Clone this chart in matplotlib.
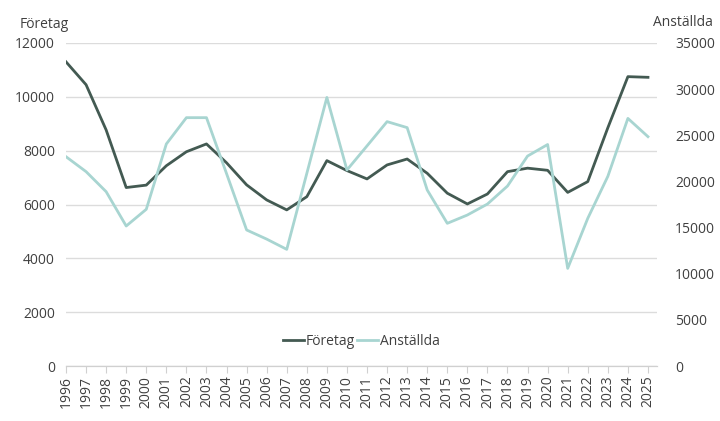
import numpy as np
import matplotlib.pyplot as plt

plt.rcParams['font.family'] = ['Open Sans', 'DejaVu Sans']

# Data
years = np.arange(1996, 2026)
foretag = [11300, 10450, 8770, 6630, 6720, 7440, 7960, 8250, 7550, 6730,
           6170, 5800, 6290, 7630, 7260, 6950, 7470, 7690, 7160, 6420,
           6020, 6390, 7220, 7350, 7270, 6450, 6850, 8850, 10750, 10725]
anstallda = [22680, 21060, 18890, 15170, 16980, 24060, 26910, 26910, 20850, 14740,
             13750, 12640, 20870, 29100, 21240, 23850, 26480, 25830, 19070, 15460,
             16360, 17550, 19500, 22750, 24000, 10580, 16000, 20550, 26830, 24850]

dark = '#435a52'
teal = '#a8d5d1'
txt = '#404040'

fig = plt.figure(figsize=(7.2, 4.21), dpi=100)
ax = fig.add_axes([66 / 720, 1 - 366 / 421, 591 / 720, 323 / 421])
ax2 = ax.twinx()

l1, = ax.plot(years, foretag, color=dark, lw=2.0, label='Företag', zorder=3)
l2, = ax2.plot(years, anstallda, color=teal, lw=2.0, label='Anställda', zorder=2)

ax.set_xlim(1996, 2025.45)
ax.set_ylim(0, 12000)
ax2.set_ylim(0, 35000)
ax.set_yticks(np.arange(0, 12001, 2000))
ax2.set_yticks(np.arange(0, 35001, 5000))
ax.set_xticks(years)
ax.set_xticklabels([str(y) for y in years], rotation=90)

ax.grid(axis='y', color='#dcdcdc', lw=1)
ax.set_axisbelow(True)
for a in (ax, ax2):
    for s in ('top', 'left', 'right'):
        a.spines[s].set_visible(False)
    a.spines['bottom'].set_color('#d0d0d0')
ax.tick_params(axis='y', length=0, labelsize=10, labelcolor=txt, pad=8)
ax.tick_params(axis='x', length=5, color='#d0d0d0', labelsize=10, labelcolor=txt, pad=2)
ax2.tick_params(axis='y', length=0, labelsize=10, labelcolor=txt, pad=13)
for lab in ax2.get_yticklabels():
    lab.set_horizontalalignment('left')

fig.text(20 / 720, 1 - 25 / 421, 'Företag', fontsize=10, color=txt, va='center', ha='left')
fig.text(713 / 720, 1 - 23 / 421, 'Anställda', fontsize=10, color=txt, va='center', ha='right')

ax.legend(handles=[l1, l2], loc='center', bbox_to_anchor=(0.5, 0.077), ncol=2,
          frameon=False, fontsize=10, labelcolor=txt, handlelength=1.5,
          handletextpad=0.15, columnspacing=0.15)

fig.savefig('out.png', dpi=100)
